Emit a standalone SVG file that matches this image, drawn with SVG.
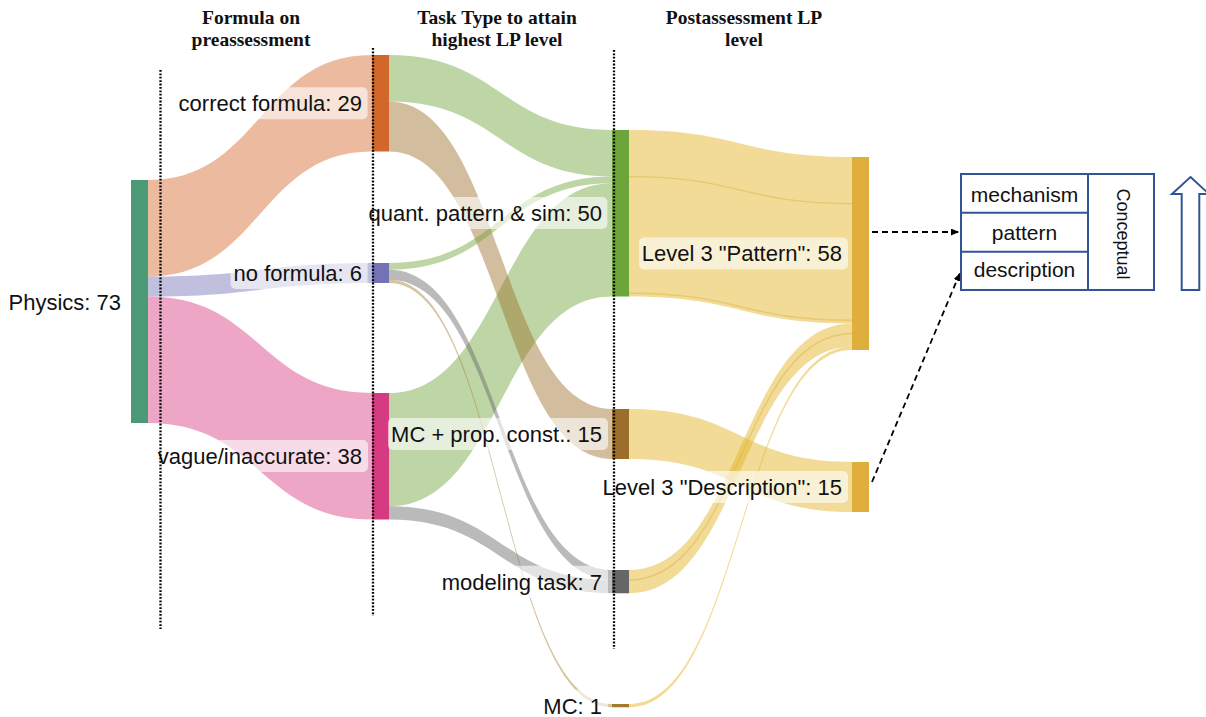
<svg xmlns="http://www.w3.org/2000/svg" width="1206" height="717" viewBox="0 0 1206 717">
  <defs>
    <style>
      .hdr { font-family: "Liberation Serif", "Times New Roman", serif; font-weight: bold; font-size: 19.5px; fill: #111; text-anchor: middle; }
      .lbl { font-family: "Liberation Sans", Arial, sans-serif; font-size: 22px; fill: #111; text-anchor: end; }
      .lbg { fill: #ffffff; fill-opacity: 0.6; }
      .link { fill-opacity: 0.45; stroke: none; }
      .gold { fill: #e3b830; fill-opacity: 0.5; stroke: none; }
      .seam { fill: none; stroke: #e0b545; stroke-opacity: 0.5; stroke-width: 1.4; }
      .guide { stroke: #000; stroke-width: 2.3; stroke-dasharray: 1.8 1.6; fill: none; }
      .lp { fill: #fff; stroke: #2f5597; stroke-width: 2; }
      .lpline { stroke: #2f5597; stroke-width: 2; fill: none; }
      .lpt { font-family: "Liberation Sans", Arial, sans-serif; font-size: 21px; fill: #111; text-anchor: middle; }
      .dash { stroke: #000; stroke-width: 1.8; stroke-dasharray: 6 4; fill: none; }
    </style>
    <marker id="ah" viewBox="0 0 8 7" refX="8" refY="3.5" markerWidth="8" markerHeight="7" markerUnits="userSpaceOnUse" orient="auto">
      <path d="M0,0 L8,3.5 L0,7 Z" fill="#000"/>
    </marker>
  </defs>

  <rect width="1206" height="717" fill="#fff"/>

  <!-- column headers -->
  <g id="headers">
    <text class="hdr" x="251" y="24">Formula on</text>
    <text class="hdr" x="251" y="46">preassessment</text>
    <text class="hdr" x="497" y="24">Task Type to attain</text>
    <text class="hdr" x="497" y="46">highest LP level</text>
    <text class="hdr" x="744" y="24">Postassessment LP</text>
    <text class="hdr" x="744" y="46">level</text>
  </g>

  <!-- flows -->
  <g id="links">
    <!-- Physics -> formula groups -->
    <path class="link" fill="#d2672a" d="M148,180 C260,180 260,55 372,55 L372,151.5 C260,151.5 260,276.5 148,276.5 Z"/>
    <path class="link" fill="#7472b5" d="M148,276.5 C260,276.5 260,263 372,263 L372,283 C260,283 260,296.5 148,296.5 Z"/>
    <path class="link" fill="#d63a80" d="M148,296.5 C260,296.5 260,393 372,393 L372,519.5 C260,519.5 260,423 148,423 Z"/>
    <!-- formula groups -> task types -->
    <path class="link" fill="#6ea53a" d="M389,55 C500.5,55 500.5,130 612,130 L612,176.6 C500.5,176.6 500.5,101.6 389,101.6 Z"/>
    <path class="link" fill="#6ea53a" d="M389,393 C500.5,393 500.5,183.3 612,183.3 L612,296.5 C500.5,296.5 500.5,506.2 389,506.2 Z"/>
    <path class="link" fill="#9c6e2b" d="M389,101.6 C500.5,101.6 500.5,409 612,409 L612,459 C500.5,459 500.5,151.5 389,151.5 Z"/>
    <path class="link" fill="#6ea53a" d="M389,263 C500.5,263 500.5,176.6 612,176.6 L612,183.3 C500.5,183.3 500.5,269.7 389,269.7 Z"/>
    <path class="link" fill="#666666" d="M389,269.7 C500.5,269.7 500.5,570 612,570 L612,580 C500.5,580 500.5,279.7 389,279.7 Z"/>
    <path class="link" fill="#a47a2c" d="M389,279.7 C500.5,279.7 500.5,704 612,704 L612,707.3 C500.5,707.3 500.5,283 389,283 Z"/>
    <path class="link" fill="#666666" d="M389,506.2 C500.5,506.2 500.5,580 612,580 L612,593.3 C500.5,593.3 500.5,519.5 389,519.5 Z"/>
    <!-- task types -> postassessment level -->
    <path class="gold" d="M629,130 C740.5,130 740.5,157 852,157 L852,323.5 C740.5,323.5 740.5,296.5 629,296.5 Z"/>
    <path class="gold" d="M629,409 C740.5,409 740.5,462 852,462 L852,512 C740.5,512 740.5,459 629,459 Z"/>
    <path class="gold" d="M629,570 C740.5,570 740.5,323.5 852,323.5 L852,346.8 C740.5,346.8 740.5,593.3 629,593.3 Z"/>
    <path class="gold" d="M629,704 C740.5,704 740.5,346.8 852,346.8 L852,350.1 C740.5,350.1 740.5,707.3 629,707.3 Z"/>
    <!-- seams between stacked flows -->
    <path class="seam" d="M629,176.6 C740.5,176.6 740.5,203.6 852,203.6"/>
    <path class="seam" d="M629,293.2 C740.5,293.2 740.5,320.2 852,320.2"/>
    <path class="seam" d="M629,580 C740.5,580 740.5,333.5 852,333.5"/>
  </g>

  <!-- nodes -->
  <g id="n-physics">
    <rect x="131" y="180" width="17" height="243" fill="#4a9a77"/>
    <rect class="lbg" x="6" y="285.5" width="121" height="32" rx="5"/>
    <text class="lbl" x="121" y="309.5">Physics: 73</text>
  </g>
  <g id="n-correct">
    <rect x="372" y="55" width="17" height="96.5" fill="#d2672a"/>
    <rect class="lbg" x="175.6" y="87.3" width="192" height="32" rx="5"/>
    <text class="lbl" x="362" y="111.2">correct formula: 29</text>
  </g>
  <g id="n-noformula">
    <rect x="372" y="263" width="17" height="20" fill="#7472b5"/>
    <rect class="lbg" x="230.6" y="257" width="137" height="32" rx="5"/>
    <text class="lbl" x="362" y="281">no formula: 6</text>
  </g>
  <g id="n-vague">
    <rect x="372" y="393" width="17" height="126.5" fill="#d63a80"/>
    <rect class="lbg" x="155" y="440" width="213" height="32" rx="5"/>
    <text class="lbl" x="362" y="464">vague/inaccurate: 38</text>
  </g>
  <g id="n-quant">
    <rect x="612" y="130" width="17" height="166.5" fill="#6ea53a"/>
    <rect class="lbg" x="365.4" y="197" width="242" height="32" rx="5"/>
    <text class="lbl" x="602" y="221">quant. pattern &amp; sim: 50</text>
  </g>
  <g id="n-mcprop">
    <rect x="612" y="409" width="17" height="50" fill="#9c6e2b"/>
    <rect class="lbg" x="388" y="418" width="220" height="32" rx="5"/>
    <text class="lbl" x="602" y="442">MC + prop. const.: 15</text>
  </g>
  <g id="n-modeling">
    <rect x="612" y="570" width="17" height="23.3" fill="#666666"/>
    <rect class="lbg" x="439" y="565.7" width="169" height="32" rx="5"/>
    <text class="lbl" x="602" y="589.6">modeling task: 7</text>
  </g>
  <g id="n-mc">
    <rect x="612" y="704" width="17" height="3.3" fill="#a47a2c"/>
    <rect class="lbg" x="540" y="689.7" width="68" height="32" rx="5"/>
    <text class="lbl" x="602" y="713.6">MC: 1</text>
  </g>
  <g id="n-pattern">
    <rect x="852" y="157" width="17" height="193" fill="#e0ae3c"/>
    <rect class="lbg" x="639" y="237.5" width="209" height="32" rx="5"/>
    <text class="lbl" x="842" y="261.4">Level 3 "Pattern": 58</text>
  </g>
  <g id="n-description">
    <rect x="852" y="462" width="17" height="50" fill="#e0ae3c"/>
    <rect class="lbg" x="600" y="471" width="248" height="32" rx="5"/>
    <text class="lbl" x="842" y="494.9">Level 3 "Description": 15</text>
  </g>

  <!-- dotted column guides -->
  <g id="guides">
    <line class="guide" x1="160.5" y1="70" x2="160.5" y2="629"/>
    <line class="guide" x1="373" y1="48" x2="373" y2="616"/>
    <line class="guide" x1="614" y1="50" x2="614" y2="649"/>
  </g>

  <!-- learning progression levels -->
  <g id="lp-box">
    <rect class="lp" x="961" y="174" width="193" height="116"/>
    <line class="lpline" x1="1088" y1="174" x2="1088" y2="290"/>
    <line class="lpline" x1="961" y1="212.7" x2="1088" y2="212.7"/>
    <line class="lpline" x1="961" y1="251.7" x2="1088" y2="251.7"/>
    <text class="lpt" x="1024.5" y="202">mechanism</text>
    <text class="lpt" x="1024.5" y="240">pattern</text>
    <text class="lpt" x="1024.5" y="277">description</text>
    <text class="lpt" style="font-size:18px" transform="translate(1116.5,234) rotate(90)" x="0" y="0">Conceptual</text>
  </g>

  <g id="up-arrow">
    <polygon points="1190.5,177 1209,194 1199.3,194 1199.3,290 1181.7,290 1181.7,194 1172,194" fill="#fff" stroke="#2f5597" stroke-width="2" stroke-linejoin="miter"/>
  </g>

  <!-- mapping arrows -->
  <g id="mapping">
    <line class="dash" x1="872" y1="232" x2="959" y2="232" marker-end="url(#ah)"/>
    <line class="dash" x1="872" y1="482" x2="960" y2="273" marker-end="url(#ah)"/>
  </g>
</svg>
